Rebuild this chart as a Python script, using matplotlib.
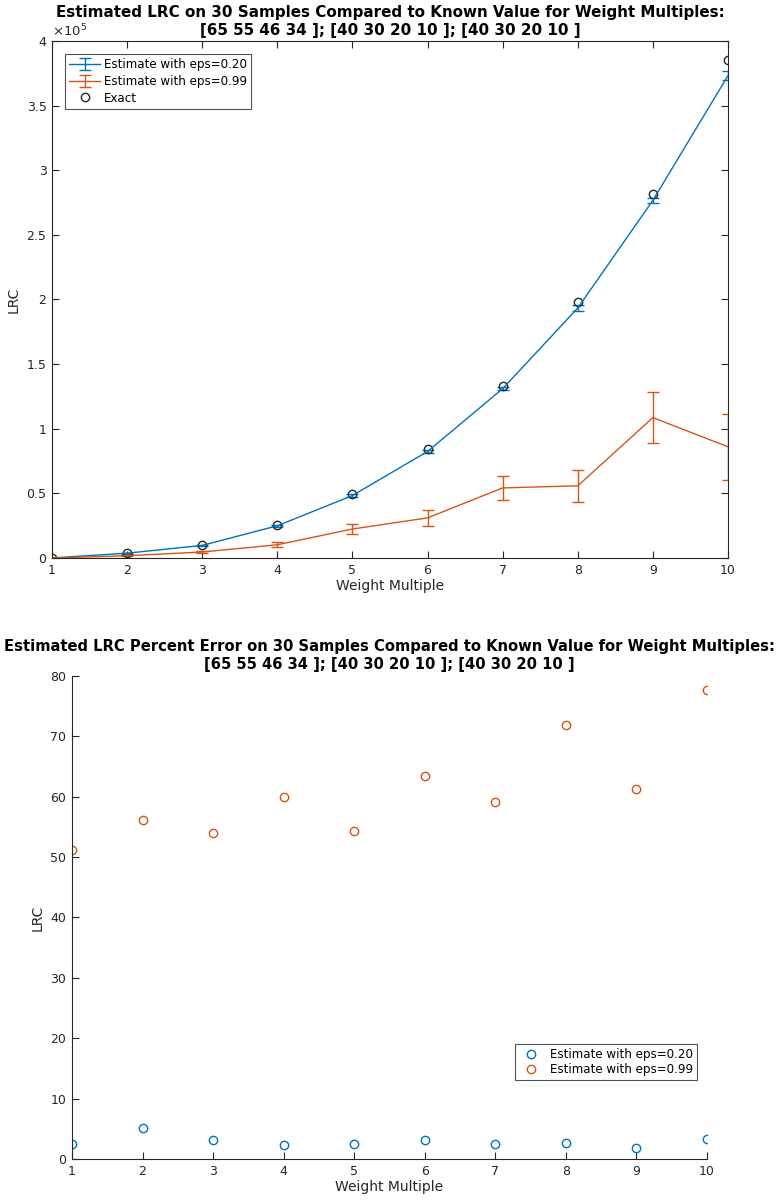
import numpy as np
import matplotlib
matplotlib.use("Agg")
import matplotlib.pyplot as plt
from matplotlib.ticker import FuncFormatter

# weight multiples
weights = [1, 2, 3, 4, 5, 6, 7, 8, 9, 10]

# exact LRC values
exact = [0, 3900, 10000, 25500, 49500, 84300, 133000, 198000, 281600, 385300]

# estimates with eps=0.20
est_020 = [0, 3700, 9700, 24900, 48300, 82400, 131000, 193400, 276700, 373200]
err_020 = [100, 300, 500, 700, 900, 1100, 1300, 2300, 1900, 3250]

# estimates with eps=0.99
est_099 = [0, 1700, 4600, 10200, 22400, 31000, 54200, 55800, 108600, 86000]
err_099 = [50, 300, 1000, 2000, 3900, 6400, 9400, 12500, 19900, 25700]

# percent error
pct_020 = [2.4, 5.1, 3.1, 2.25, 2.4, 3.1, 2.4, 2.6, 1.75, 3.25]
pct_099 = [51.2, 56.2, 54.0, 60.0, 54.4, 63.5, 59.2, 71.8, 61.3, 77.6]

blue = '#0072BD'
orange = '#D95319'
dark = '#262626'
subtitle = '[65 55 46 34 ]; [40 30 20 10 ]; [40 30 20 10 ]'
title_top = 'Estimated LRC on 30 Samples Compared to Known Value for Weight Multiples:'
title_bot = 'Estimated LRC Percent Error on 30 Samples Compared to Known Value for Weight Multiples:'

plt.rcParams['font.family'] = ['DejaVu Sans']
fig = plt.figure(figsize=(7.8, 12.03), dpi=100)


def two_line_title(ax, first, size, pad):
    # second line as the axes title, first line placed just above it
    ax.set_title(subtitle, fontsize=size, fontweight='bold', pad=pad)
    ax.annotate(first, xy=(0.5, 1), xycoords='axes fraction',
                xytext=(0, pad + 10.8), textcoords='offset points',
                ha='center', va='bottom', fontsize=size, fontweight='bold')


# top plot: LRC estimates
ax1 = fig.add_axes([0.0667, 0.5362, 0.8666, 0.4297])
h1 = ax1.errorbar(weights, est_020, yerr=err_020, color=blue, lw=1, capsize=4,
                  capthick=1, elinewidth=1, label='Estimate with eps=0.20')
h2 = ax1.errorbar(weights, est_099, yerr=err_099, color=orange, lw=1, capsize=4,
                  capthick=1, elinewidth=1, label='Estimate with eps=0.99')
h3, = ax1.plot(weights, exact, 'o', mfc='none', mec=dark, ms=6, mew=1,
               label='Exact')
ax1.set_xlim(1, 10)
ax1.set_ylim(0, 400000)
ax1.set_xticks(weights)
ax1.set_yticks(np.arange(0, 400001, 50000))
ax1.yaxis.set_major_formatter(FuncFormatter(lambda v, p: '%g' % (v / 1e5)))
ax1.text(0.0, 1.004, r'$\times10^{5}$', transform=ax1.transAxes, fontsize=9.5,
         color=dark, va='bottom', ha='left')
ax1.set_xlabel('Weight Multiple', fontsize=10, color=dark, labelpad=2)
ax1.set_ylabel('LRC', fontsize=10, color=dark, labelpad=4)
two_line_title(ax1, title_top, 10.9, 4)
ax1.tick_params(direction='in', top=True, right=True, labelsize=9,
                colors=dark, length=5, pad=4)
leg1 = ax1.legend([h1, h2, h3], [h1.get_label(), h2.get_label(), h3.get_label()],
                  loc='upper left', fontsize=8.6, frameon=True, fancybox=False,
                  edgecolor=dark, borderpad=0.35, labelspacing=0.3,
                  handlelength=2.6, handletextpad=0.3, borderaxespad=1.1)
leg1.get_frame().set_linewidth(0.8)
for s in ax1.spines.values():
    s.set_color(dark)
    s.set_linewidth(0.8)

# bottom plot: percent error
ax2 = fig.add_axes([0.0923, 0.0366, 0.8141, 0.4015])
ax2.plot(weights, pct_020, 'o', mfc='none', mec=blue, ms=6, mew=1,
         label='Estimate with eps=0.20')
ax2.plot(weights, pct_099, 'o', mfc='none', mec=orange, ms=6, mew=1,
         label='Estimate with eps=0.99')
ax2.set_xlim(1, 10)
ax2.set_ylim(0, 80)
ax2.set_xticks(weights)
ax2.set_yticks(np.arange(0, 81, 10))
ax2.set_xlabel('Weight Multiple', fontsize=10, color=dark, labelpad=2)
ax2.set_ylabel('LRC', fontsize=10, color=dark, labelpad=4)
two_line_title(ax2, title_bot, 10.6, 5)
ax2.spines['top'].set_visible(False)
ax2.spines['right'].set_visible(False)
for s in ax2.spines.values():
    s.set_color(dark)
    s.set_linewidth(0.8)
ax2.tick_params(direction='in', labelsize=9, colors=dark, length=5, pad=4)
leg2 = ax2.legend(loc='lower right', bbox_to_anchor=(0.984, 0.1636),
                  borderaxespad=0, fontsize=8.6, frameon=True, fancybox=False,
                  edgecolor=dark, borderpad=0.3, labelspacing=0.2,
                  handlelength=2.0, handletextpad=0.6)
leg2.get_frame().set_linewidth(0.8)

fig.savefig('out.png', dpi=100)
